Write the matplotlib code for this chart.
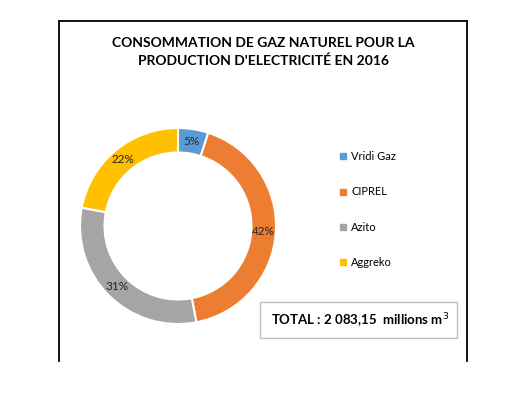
import matplotlib
matplotlib.use('Agg')
import matplotlib.pyplot as plt
from matplotlib.lines import Line2D
from matplotlib.patches import Rectangle

plt.rcParams['font.family'] = ['Lato', 'DejaVu Sans']

producers = ['Vridi Gaz', 'CIPREL', 'Azito', 'Aggreko']
shares = [5, 42, 31, 22]
colors = ['#5B9BD5', '#ED7D31', '#A5A5A5', '#FFC000']
title = "CONSOMMATION DE GAZ NATUREL POUR LA\nPRODUCTION D'ELECTRICITÉ EN 2016"
total_text = 'TOTAL : 2 083,15  millions m$^3$'

W, H = 517, 397
fig = plt.figure(figsize=(W / 100, H / 100), dpi=100)


def fx(px):
    return px / W


def fy(py):
    return 1 - py / H


# open frame (screenshot cut at the bottom)
for xs, ys in [([59, 59], [361, 21]), ([59, 467], [21, 21]), ([467, 467], [21, 361])]:
    fig.add_artist(Line2D([fx(v) for v in xs], [fy(v) for v in ys],
                          transform=fig.transFigure, color='black', lw=1.3))

fig.text(fx(263), fy(52), title, ha='center', va='center', fontsize=10,
         fontweight='bold', linespacing=1.55)

# donut
cx, cy, r = 178, 226, 98
ax = fig.add_axes([fx(cx - r), fy(cy + r), 2 * r / W, 2 * r / H])
wedges, _, autotexts = ax.pie(shares, colors=colors, startangle=90, counterclock=False,
                              radius=1, autopct='%1.0f%%', pctdistance=0.875,
                              wedgeprops=dict(width=0.25, edgecolor='white', linewidth=1.5),
                              textprops=dict(fontsize=8.5, color='#262626'))
ax.set_xlim(-1, 1)
ax.set_ylim(-1, 1)
ax.set_aspect('equal')
ax.axis('off')

handles = [Line2D([], [], marker='s', ls='', color=c, markersize=4) for c in colors]
fig.legend(handles, producers, loc='upper left', bbox_to_anchor=(fx(340), fy(151)),
           frameon=False, fontsize=8, labelspacing=2.2, handlelength=0.6,
           handletextpad=0.4, borderpad=0, borderaxespad=0)

# total box
fig.add_artist(Rectangle((fx(260), fy(338)), fx(457) - fx(260), fy(302) - fy(338),
                         transform=fig.transFigure, fill=False, edgecolor='#BFBFBF', lw=1))
fig.text(fx(271), fy(321), total_text, ha='left', va='center', fontsize=9.5,
         fontweight='bold')

fig.savefig('out.png', dpi=100)
